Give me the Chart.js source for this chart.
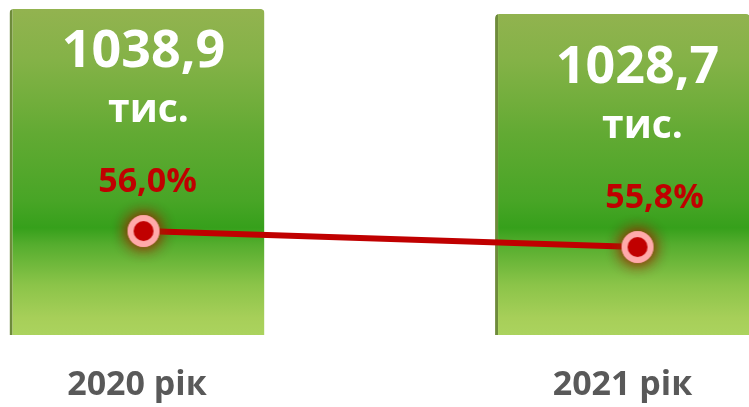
<!DOCTYPE html>
<html>
<head>
<meta charset="utf-8">
<script src="https://cdn.jsdelivr.net/npm/chart.js@4.4.1/dist/chart.umd.min.js"></script>
<style>
    html, body { margin: 0; padding: 0; background: #fff; }
    #wrap { width: 749px; height: 407px; }
</style>
</head>
<body>
<div id="wrap"><canvas id="myChart"></canvas></div>
<script>
// ===================== data =====================
var years = ['2020 рік', '2021 рік'];
var population = [1038.9, 1028.7];   // тис.
var shares = [56.0, 55.8];           // %

function fmt(v) {
    return v.toFixed(1).replace('.', ',');
}

// ===================== styles =====================
var FONT = '"Open Sans", "Noto Sans", sans-serif';

// gradient for the green columns, built over the chart area
function barFill(context) {
    var area = context.chart.chartArea;
    if (!area) return '#5cb030';
    var g = context.chart.ctx.createLinearGradient(0, area.top, 0, area.bottom);
    g.addColorStop(0.00, '#95b351');
    g.addColorStop(0.18, '#84b247');
    g.addColorStop(0.30, '#72ae3c');
    g.addColorStop(0.40, '#62aa33');
    g.addColorStop(0.60, '#48a526');
    g.addColorStop(0.68, '#36a01b');
    g.addColorStop(0.73, '#55ad2e');
    g.addColorStop(0.85, '#8bc449');
    g.addColorStop(0.95, '#a7cf59');
    g.addColorStop(1.00, '#abd35e');
    return g;
}

// round marker: pink ring, dark red core, brownish glow
function makeMarker() {
    var c = document.createElement('canvas');
    c.width = 70;
    c.height = 70;
    var ctx = c.getContext('2d');
    ctx.shadowColor = 'rgba(150, 45, 0, 0.95)';
    ctx.shadowBlur = 16;
    ctx.fillStyle = '#ffaaaa';
    ctx.beginPath();
    ctx.arc(35, 35, 16, 0, Math.PI * 2);
    ctx.fill();
    ctx.fill();
    ctx.shadowBlur = 0;
    ctx.shadowColor = 'transparent';
    ctx.fillStyle = '#c00000';
    ctx.beginPath();
    ctx.arc(35, 35, 10, 0, Math.PI * 2);
    ctx.fill();
    return c;
}

// labels inside the columns, placed from the line points
var valueLabels = {
    id: 'valueLabels',
    afterDatasetsDraw: function (chart) {
        var ctx = chart.ctx;
        var points = chart.getDatasetMeta(1).data;
        ctx.save();
        ctx.textAlign = 'center';
        ctx.textBaseline = 'alphabetic';
        points.forEach(function (p, i) {
            ctx.fillStyle = '#ffffff';
            ctx.font = 'bold 52px ' + FONT;
            ctx.fillText(fmt(population[i]), p.x, p.y - 164);
            ctx.font = 'bold 39px ' + FONT;
            ctx.fillText('тис.', p.x + 5, p.y - 109);
            ctx.fillStyle = '#c00000';
            ctx.font = 'bold 34px ' + FONT;
            ctx.fillText(fmt(shares[i]) + '%', p.x + 4 + i * 13, p.y - 39);
        });
        ctx.restore();
    }
};

// ===================== chart =====================
new Chart(document.getElementById('myChart'), {
    type: 'bar',
    data: {
        labels: years,
        datasets: [
            {
                type: 'bar',
                label: 'тис.',
                data: population,
                xAxisID: 'x',
                yAxisID: 'y',
                order: 2,
                grouped: false,
                backgroundColor: barFill,
                borderColor: '#6e8b3b',
                borderWidth: { left: 3, top: 0, right: 0, bottom: 0 },
                borderRadius: { topLeft: 4, topRight: 4 },
                borderSkipped: false,
                categoryPercentage: 1,
                barPercentage: 0.525,
                clip: { left: 150, right: 140, top: 20, bottom: 0 }
            },
            {
                type: 'line',
                label: 'частка',
                data: shares.map(function (v, i) { return { x: i, y: v }; }),
                xAxisID: 'x2',
                yAxisID: 'y2',
                order: 1,
                borderColor: '#c00000',
                borderWidth: 6,
                pointStyle: makeMarker(),
                pointRadius: 16,
                clip: false
            }
        ]
    },
    options: {
        responsive: true,
        maintainAspectRatio: false,
        animation: false,
        layout: {
            autoPadding: false,
            padding: { left: 137, right: 126.5, top: 0, bottom: 0 }
        },
        plugins: {
            legend: { display: false },
            tooltip: { enabled: false }
        },
        scales: {
            x: {
                type: 'category',
                offset: false,
                grid: { display: false, drawTicks: false },
                border: { display: false },
                ticks: {
                    color: '#595959',
                    padding: 30,
                    font: { family: FONT, size: 34, weight: 'bold' }
                },
                afterFit: function (scale) {
                    scale.height = 72;
                }
            },
            x2: {
                type: 'linear',
                display: false,
                offset: false,
                min: -0.0132,
                max: 0.9696
            },
            y: {
                display: false,
                min: 374,
                max: 1057
            },
            y2: {
                display: false,
                min: 54.7,
                max: 58.89
            }
        }
    },
    plugins: [valueLabels]
});
</script>
</body>
</html>
